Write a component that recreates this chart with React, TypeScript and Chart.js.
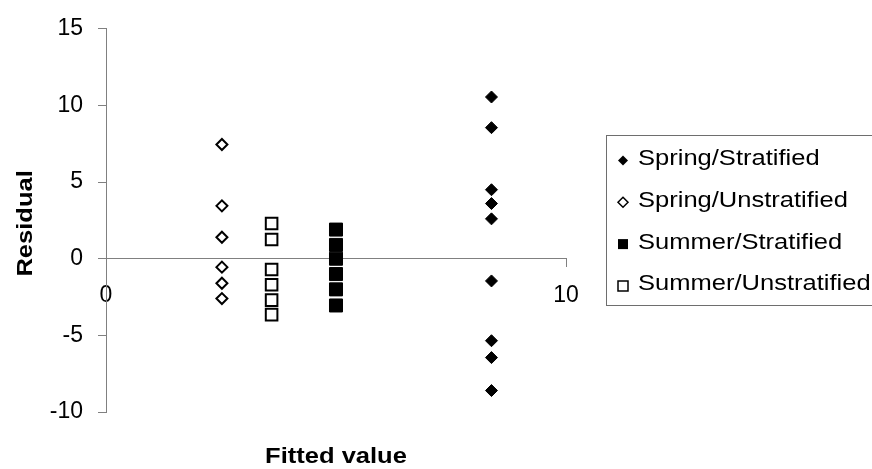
import React, { useEffect, useRef } from 'react';
import { Chart, registerables } from 'chart.js';

Chart.register(...registerables);

const seriesLabels = ['Spring/Stratified', 'Spring/Unstratified', 'Summer/Stratified', 'Summer/Unstratified'];
const springStratX = 8.38;
const springStratResiduals = [10.55, 8.55, 4.5, 3.6, 2.6, -1.45, -5.35, -6.45, -8.6];
const springUnstratX = 2.52;
const springUnstratResiduals = [7.45, 3.45, 1.4, -0.55, -1.6, -2.6];
const summerStratX = 5.0;
const summerStratResiduals = [1.9, 0.9, 0, -1, -2, -3.05];
const summerUnstratX = 3.6;
const summerUnstratResiduals = [2.3, 1.25, -0.7, -1.7, -2.7, -3.65];
const xTicks = [0, 10];
const yTicks = [-10, -5, 0, 5, 10, 15];
const xTitle = 'Fitted value';
const yTitle = 'Residual';

const FONT = '"Liberation Sans", Arial, sans-serif';
const STRETCH = 1.16;

const toPoints = (x: number, ys: number[]) => ys.map((y) => ({ x, y }));

const markerKinds = ['diamondFilled', 'diamondOpen', 'squareFilled', 'squareOpen'];

function stretchedText(ctx: CanvasRenderingContext2D, text: string, x: number, y: number, align: CanvasTextAlign) {
  ctx.save();
  ctx.translate(x, y);
  ctx.scale(STRETCH, 1);
  ctx.textAlign = align;
  ctx.textBaseline = 'alphabetic';
  ctx.fillText(text, 0, 0);
  ctx.restore();
}

const overlayPlugin = {
  id: 'overlay',
  afterDraw(chart: any) {
    const ctx = chart.ctx as CanvasRenderingContext2D;
    const area = chart.chartArea;
    ctx.save();
    // Axis titles
    ctx.fillStyle = '#000';
    ctx.font = `bold 22px ${FONT}`;
    stretchedText(ctx, xTitle, (area.left + area.right) / 2, 463, 'center');
    ctx.save();
    ctx.translate(32, (area.top + area.bottom) / 2 + 3);
    ctx.rotate(-Math.PI / 2);
    stretchedText(ctx, yTitle, 0, 0, 'center');
    ctx.restore();

    // Legend box
    const boxLeft = 606.5;
    const boxTop = 135.5;
    const boxBottom = 305.5;
    ctx.strokeStyle = '#6e6e6e';
    ctx.lineWidth = 1;
    ctx.strokeRect(boxLeft, boxTop, 300, boxBottom - boxTop);

    ctx.font = `22px ${FONT}`;
    chart.data.datasets.forEach((ds: any, i: number) => {
      const cy = 160.5 + i * 41.8;
      const cx = 623;
      const kind = markerKinds[i];
      ctx.beginPath();
      if (kind.startsWith('diamond')) {
        ctx.moveTo(cx, cy - 5);
        ctx.lineTo(cx + 5, cy);
        ctx.lineTo(cx, cy + 5);
        ctx.lineTo(cx - 5, cy);
        ctx.closePath();
      } else {
        ctx.rect(cx - 5, cy - 5, 10, 10);
      }
      if (kind.endsWith('Filled')) {
        ctx.fillStyle = '#000';
        ctx.fill();
      } else {
        ctx.fillStyle = '#fff';
        ctx.fill();
        ctx.strokeStyle = '#000';
        ctx.lineWidth = 1.5;
        ctx.stroke();
      }
      ctx.fillStyle = '#000';
      stretchedText(ctx, ds.label, 638, cy + 4.5, 'left');
    });
    ctx.restore();
  },
};

export default function App() {
  const ref = useRef<HTMLCanvasElement | null>(null);

  useEffect(() => {
    document.body.style.margin = '0';
    const canvas = ref.current;
    if (!canvas) return;
    const chart = new Chart(canvas, {
      type: 'scatter',
      data: {
        datasets: [
          {
            label: seriesLabels[0],
            data: toPoints(springStratX, springStratResiduals),
            pointStyle: 'rectRot',
            pointRadius: 6,
            backgroundColor: '#000',
            borderColor: '#000',
            borderWidth: 1,
          },
          {
            label: seriesLabels[1],
            data: toPoints(springUnstratX, springUnstratResiduals),
            pointStyle: 'rectRot',
            pointRadius: 5.5,
            backgroundColor: '#fff',
            borderColor: '#000',
            borderWidth: 2,
          },
          {
            label: seriesLabels[2],
            data: toPoints(summerStratX, summerStratResiduals),
            pointStyle: 'rect',
            pointRadius: 9.2,
            backgroundColor: '#000',
            borderColor: '#000',
            borderWidth: 1,
          },
          {
            label: seriesLabels[3],
            data: toPoints(summerUnstratX, summerUnstratResiduals),
            pointStyle: 'rect',
            pointRadius: 8.2,
            backgroundColor: '#fff',
            borderColor: '#000',
            borderWidth: 2,
          },
        ],
      },
      options: {
        responsive: false,
        animation: false,
        devicePixelRatio: 1,
        layout: { padding: { top: 25, right: 306, bottom: 57, left: 0 } },
        plugins: { legend: { display: false }, tooltip: { enabled: false } },
        scales: {
          x: {
            type: 'linear',
            position: { y: 0 } as any,
            min: xTicks[0],
            max: xTicks[xTicks.length - 1],
            afterBuildTicks: (scale: any) => {
              scale.ticks = xTicks.map((v) => ({ value: v }));
            },
            grid: { drawOnChartArea: false, drawTicks: true, tickLength: 8, color: '#808080' },
            border: { display: true, color: '#808080', width: 1 },
            ticks: { color: '#000', font: { family: FONT, size: 23 }, padding: 15, maxRotation: 0 },
          },
          y: {
            type: 'linear',
            position: 'left',
            min: yTicks[0],
            max: yTicks[yTicks.length - 1],
            afterBuildTicks: (scale: any) => {
              scale.ticks = yTicks.map((v) => ({ value: v }));
            },
            afterFit: (scale: any) => {
              scale.width = 106;
            },
            grid: { drawOnChartArea: false, drawTicks: true, tickLength: 8, color: '#808080' },
            border: { display: true, color: '#808080', width: 1 },
            ticks: { color: '#000', font: { family: FONT, size: 23 }, padding: 15 },
          },
        },
      },
      plugins: [overlayPlugin],
    } as any);
    return () => chart.destroy();
  }, []);

  return <canvas ref={ref} width={872} height={469} style={{ display: 'block' }} />;
}
